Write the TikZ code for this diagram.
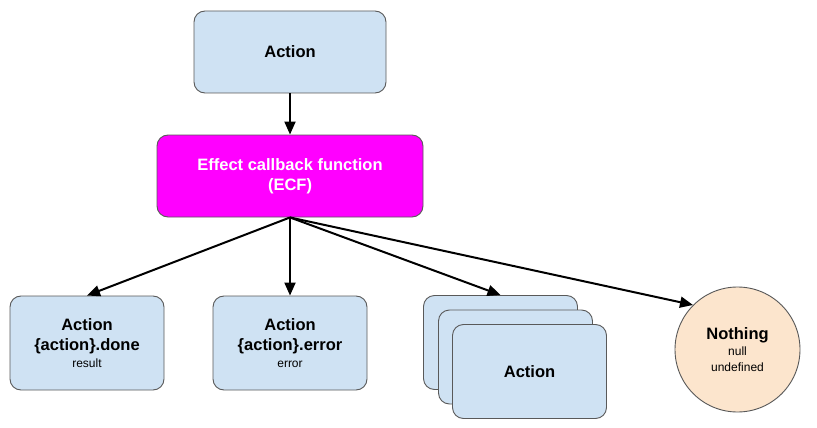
\documentclass[tikz,border=0pt]{standalone}
\usepackage{fontspec}
\setmainfont{Liberation Sans}
\usetikzlibrary{arrows.meta}

\definecolor{actionblue}{HTML}{CFE2F3}
\definecolor{nothingpeach}{HTML}{FCE5CD}
\definecolor{ecfmagenta}{HTML}{FF00FF}
\definecolor{boxline}{HTML}{595959}

\newcommand{\smalltxt}[1]{{\fontsize{12}{14}\selectfont\mdseries #1}}

\begin{document}
\begin{tikzpicture}[x=1pt,y=-1pt,
    actionbox/.style={draw=boxline, fill=actionblue, rounded corners=11pt, line width=0.9pt,
        minimum width=154pt, minimum height=94pt, inner sep=0pt, align=center,
        font=\fontsize{16.5}{20}\selectfont\bfseries},
    arr/.style={-{Triangle[length=13pt,width=11pt]}, line width=2pt}
]
\useasboundingbox (0,0) rectangle (817,428);

% Top action and the callback
\node[actionbox, minimum width=192pt, minimum height=82pt] (action) at (290,52) {Action};
\node[actionbox, fill=ecfmagenta, text=white, minimum width=266pt, minimum height=82pt] (ecf) at (290,176)
    {Effect callback function\\(ECF)};

% Results
\node[actionbox] (done) at (87,343)
    {Action\\\{action\}.done\\[-3pt]\smalltxt{result}};
\node[actionbox] (error) at (290,343)
    {Action\\\{action\}.error\\[-3pt]\smalltxt{error}};

% Stack of actions
\node[actionbox] (stackback) at (500.5,342.5) {};
\node[actionbox] (stackmid) at (515.5,357) {};
\node[actionbox] (stack) at (529.5,371.5) {Action};

% Nothing
\node[draw=boxline, fill=nothingpeach, circle, line width=0.9pt, minimum size=125pt,
    inner sep=0pt, align=center, font=\fontsize{16.5}{20}\selectfont\bfseries] (nothing) at (737.5,349.5)
    {Nothing\\[-4pt]\smalltxt{null}\\[-4pt]\smalltxt{undefined}};

% Arrows
\draw[arr] (action.south) -- (ecf.north);
\draw[arr] (ecf.south) -- (done.north);
\draw[arr] (ecf.south) -- (error.north);
\draw[arr] (ecf.south) -- (stackback.north);
\draw[arr] (ecf.south) -- (nothing.north west);

\end{tikzpicture}
\end{document}
